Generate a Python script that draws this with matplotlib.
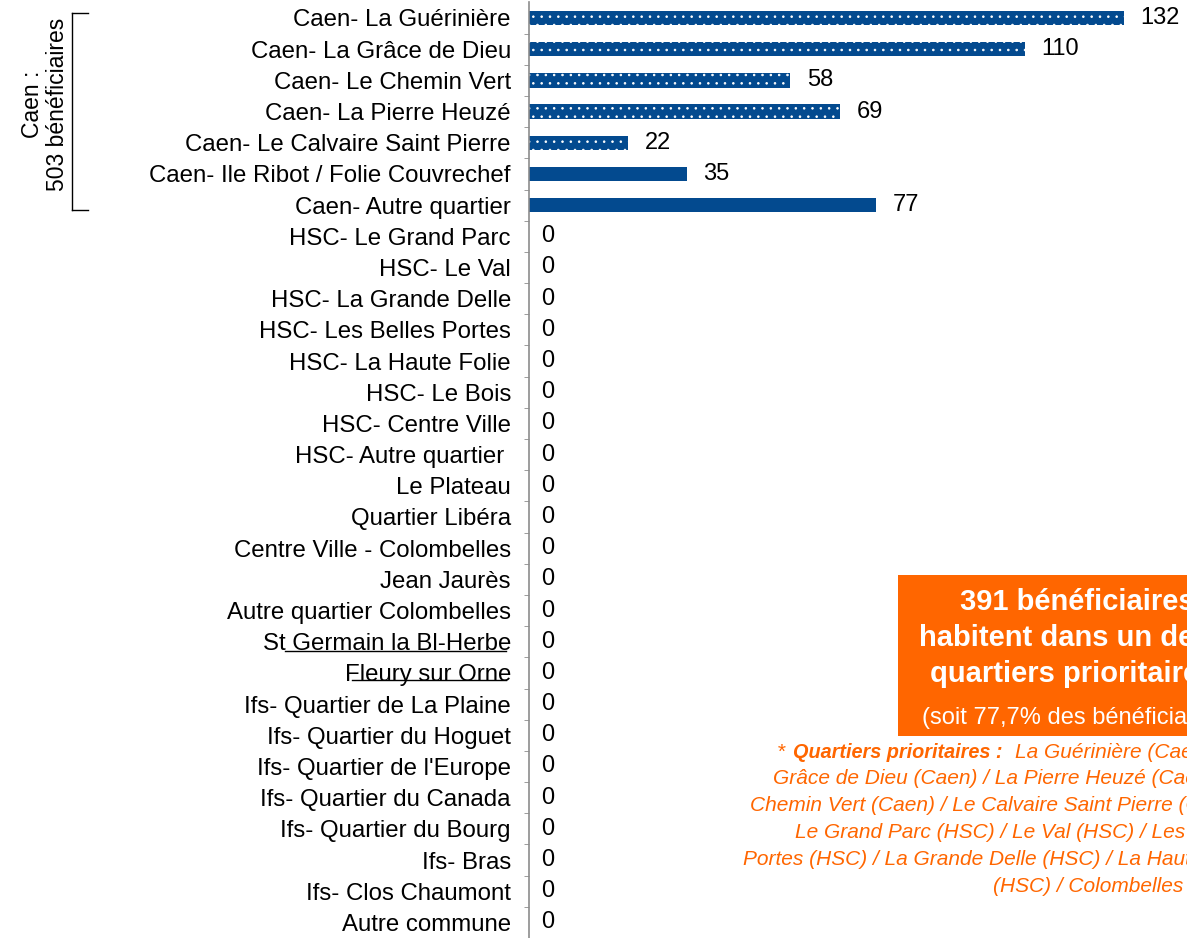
import matplotlib
matplotlib.use("Agg")
import matplotlib.pyplot as plt
from matplotlib.patches import Rectangle
from matplotlib.lines import Line2D
import numpy as np

plt.rcParams['font.family'] = ['Liberation Sans', 'DejaVu Sans']
plt.rcParams['hatch.color'] = 'white'
plt.rcParams['hatch.linewidth'] = 0.6

categories = [
    "Caen- La Guérinière", "Caen- La Grâce de Dieu", "Caen- Le Chemin Vert",
    "Caen- La Pierre Heuzé", "Caen- Le Calvaire Saint Pierre",
    "Caen- Ile Ribot / Folie Couvrechef", "Caen- Autre quartier",
    "HSC- Le Grand Parc", "HSC- Le Val", "HSC- La Grande Delle",
    "HSC- Les Belles Portes", "HSC- La Haute Folie", "HSC- Le Bois",
    "HSC- Centre Ville", "HSC- Autre quartier ", "Le Plateau",
    "Quartier Libéra", "Centre Ville - Colombelles", "Jean Jaurès",
    "Autre quartier Colombelles", "St Germain la Bl-Herbe", "Fleury sur Orne",
    "Ifs- Quartier de La Plaine", "Ifs- Quartier du Hoguet",
    "Ifs- Quartier de l'Europe", "Ifs- Quartier du Canada",
    "Ifs- Quartier du Bourg", "Ifs- Bras", "Ifs- Clos Chaumont", "Autre commune",
]
values = [132, 110, 58, 69, 22, 35, 77] + [0] * 23
prioritaire = [True] * 5 + [False] * 25

W, H = 1187, 938
fig = plt.figure(figsize=(W / 100, H / 100), dpi=100)


def fx(x):
    return x / W


def fy(y):
    return 1 - y / H


ax = fig.add_axes([fx(529), 0.0, 1 - fx(529), fy(2.4)])
y = np.arange(len(categories))
blue = '#034a8f'
for i in range(len(categories)):
    ax.barh(y[i], values[i], height=0.46, color=blue,
            hatch='..' if prioritaire[i] else None, linewidth=0)
    off = 12 if values[i] > 0 else 9
    ax.annotate(str(values[i]), (values[i], y[i]), xytext=(off, 0),
                textcoords='offset points', va='center', ha='left', fontsize=17)

ax.set_ylim(len(categories) - 0.5, -0.5)
ax.set_xlim(0, 146)
ax.set_yticks(y)
ax.set_yticklabels(categories, fontsize=17.3)
ax.set_yticks(np.arange(len(categories) - 1) + 0.5, minor=True)
ax.tick_params(axis='y', which='major', length=0, pad=13)
ax.tick_params(axis='y', which='minor', length=3.5, color='#8c8c8c', direction='out')
ax.set_xticks([])
for s in ['top', 'right', 'bottom']:
    ax.spines[s].set_visible(False)
ax.spines['left'].set_color('#8c8c8c')
ax.spines['left'].set_linewidth(1.2)

# bracket for Caen
fig.add_artist(Line2D([fx(72), fx(72)], [fy(13), fy(210)], transform=fig.transFigure, color='black', lw=1))
fig.add_artist(Line2D([fx(72), fx(88)], [fy(13), fy(13)], transform=fig.transFigure, color='black', lw=1))
fig.add_artist(Line2D([fx(72), fx(88)], [fy(210), fy(210)], transform=fig.transFigure, color='black', lw=1))
fig.text(fx(45), fy(104), "Caen :\n503 bénéficiaires", rotation=90, ha='center', va='center',
         fontsize=16.5, multialignment='center', linespacing=1.1)

# stray underlines
fig.add_artist(Line2D([fx(285), fx(506)], [fy(651), fy(651)], transform=fig.transFigure, color='black', lw=1))
fig.add_artist(Line2D([fx(352), fx(506)], [fy(680), fy(680)], transform=fig.transFigure, color='black', lw=1))

# orange box
orange = '#ff6600'
fig.add_artist(Rectangle((fx(898), fy(736)), 1.0, fy(575) - fy(736), transform=fig.transFigure,
                         facecolor=orange, edgecolor='none'))
fig.text(fx(960), fy(602), "391 bénéficiaires*", color='white', fontsize=21, fontweight='bold', va='center')
fig.text(fx(919), fy(638), "habitent dans un des", color='white', fontsize=21, fontweight='bold', va='center')
fig.text(fx(930), fy(674), "quartiers prioritaires", color='white', fontsize=21, fontweight='bold', va='center')
fig.text(fx(922), fy(718), "(soit 77,7% des bénéficiaires)", color='white', fontsize=17, va='center')

# footnote
ostyle = dict(color=orange, fontsize=15, style='italic', va='center')
fig.text(fx(777), fy(752), "*", **ostyle)
fig.text(fx(793), fy(752), "Quartiers prioritaires :", fontweight='bold', color=orange,
         fontsize=14.3, style='italic', va='center')
fig.text(fx(1015), fy(752), "La Guérinière (Caen) / La", **ostyle)
fig.text(fx(773), fy(778), "Grâce de Dieu (Caen) / La Pierre Heuzé (Caen) / Le", **ostyle)
fig.text(fx(750), fy(805), "Chemin Vert (Caen) / Le Calvaire Saint Pierre (Caen) /", **ostyle)
fig.text(fx(795), fy(832), "Le Grand Parc (HSC) / Le Val (HSC) / Les Belles", **ostyle)
fig.text(fx(743), fy(859), "Portes (HSC) / La Grande Delle (HSC) / La Haute Folie", **ostyle)
fig.text(fx(993), fy(886), "(HSC) / Colombelles", **ostyle)

fig.savefig("out.png", dpi=100)
